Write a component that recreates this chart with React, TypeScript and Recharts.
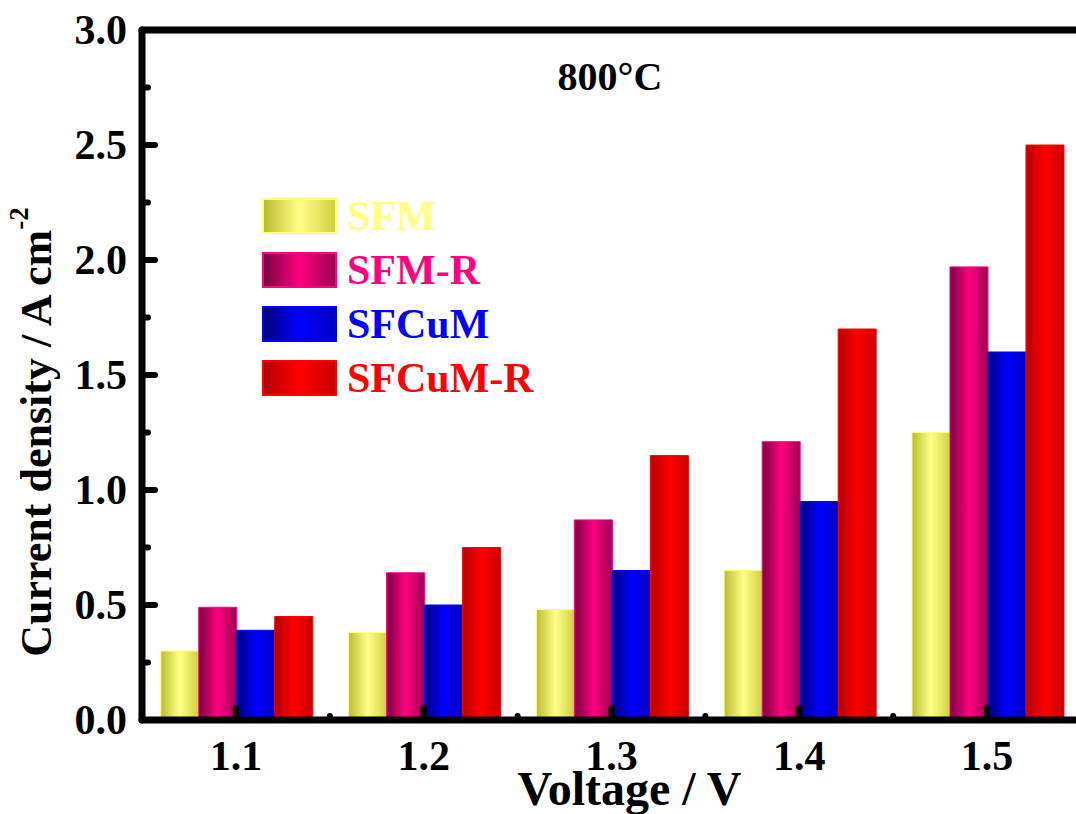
import { BarChart, Bar, XAxis, YAxis, Legend, Label } from "recharts";

const FONT = '"Liberation Serif", "Times New Roman", serif';

// current density (A cm-2) at each cell voltage, 800 °C
const voltages = ["1.1", "1.2", "1.3", "1.4", "1.5"];
const sfm = [0.3, 0.38, 0.48, 0.65, 1.25];
const sfmR = [0.49, 0.64, 0.87, 1.21, 1.97];
const sfcum = [0.39, 0.5, 0.65, 0.95, 1.6];
const sfcumR = [0.45, 0.75, 1.15, 1.7, 2.5];

const yTicks = [0, 0.25, 0.5, 0.75, 1, 1.25, 1.5, 1.75, 2, 2.25, 2.5, 2.75, 3];

const series = [
  { key: "sfm", name: "SFM", text: "#ffff80", stops: ["#bcbc30", "#ffff88", "#d0d040"] },
  { key: "sfmR", name: "SFM-R", text: "#ff0080", stops: ["#780040", "#ff0080", "#9c0052"] },
  { key: "sfcum", name: "SFCuM", text: "#0000ff", stops: ["#000080", "#0000ff", "#0000c4"] },
  { key: "sfcumR", name: "SFCuM-R", text: "#ff0000", stops: ["#b40000", "#ff0000", "#c80000"] },
];

const data = voltages.map((v, i) => ({
  voltage: v,
  sfm: sfm[i],
  sfmR: sfmR[i],
  sfcum: sfcum[i],
  sfcumR: sfcumR[i],
}));

const textStyle = { fontFamily: FONT, fontWeight: 700, fill: "#000" };

function YTick(props: any) {
  const { x, y, payload } = props;
  const v = payload.value as number;
  const major = Math.abs(v * 2 - Math.round(v * 2)) < 1e-6;
  return (
    <g>
      <line x1={x} x2={x + (major ? 13 : 6)} y1={y} y2={y} stroke="#000" strokeWidth={6} strokeLinecap="round" />
      {major && (
        <text x={x - 15} y={y} textAnchor="end" dominantBaseline="central" fontSize={42} style={textStyle}>
          {v.toFixed(1)}
        </text>
      )}
    </g>
  );
}

// major tick at the category centre, minor tick at the band's right edge
function XTick(props: any) {
  const { x, y, payload } = props;
  const half = payload.offset || 0;
  return (
    <g>
      <line x1={x} x2={x} y1={y} y2={y - 12} stroke="#000" strokeWidth={6} strokeLinecap="round" />
      <line x1={x + half} x2={x + half} y1={y} y2={y - 4} stroke="#000" strokeWidth={6} strokeLinecap="round" />
      <text x={x} y={y + 50} textAnchor="middle" fontSize={42} style={textStyle}>
        {payload.value}
      </text>
    </g>
  );
}

function XTitle(props: any) {
  const { viewBox } = props;
  return (
    <text x={viewBox.x + viewBox.width / 2 + 18} y={viewBox.y + 85} textAnchor="middle" fontSize={48} style={textStyle}>
      Voltage / V
    </text>
  );
}

function YTitle(props: any) {
  const { viewBox } = props;
  const cx = viewBox.x + viewBox.width - 106;
  const cy = viewBox.y + viewBox.height / 2 + 57;
  return (
    <text
      x={cx}
      y={cy}
      textAnchor="middle"
      dominantBaseline="central"
      fontSize={44}
      transform={`rotate(-90, ${cx}, ${cy})`}
      style={textStyle}
    >
      Current density / A cm
      <tspan dy={-17} fontSize={27}>-2</tspan>
    </text>
  );
}

function LegendList() {
  return (
    <div style={{ display: "flex", flexDirection: "column", gap: 18 }}>
      {series.map((s) => (
        <div key={s.key} style={{ display: "flex", alignItems: "center", height: 36 }}>
          <div
            style={{
              width: 75,
              height: 36,
              boxSizing: "border-box",
              border: `2px solid ${s.text}`,
              background: `linear-gradient(to right, ${s.stops[0]}, ${s.stops[1]} 50%, ${s.stops[2]})`,
            }}
          />
          <span
            style={{
              marginLeft: 10,
              fontFamily: FONT,
              fontWeight: 700,
              fontSize: 42,
              lineHeight: "36px",
              color: s.text,
            }}
          >
            {s.name}
          </span>
        </div>
      ))}
    </div>
  );
}

export default function App() {
  return (
    <div
      style={{
        position: "absolute",
        left: 0,
        top: 0,
        width: 1076,
        height: 814,
        overflow: "hidden",
        background: "#fff",
      }}
    >
      <BarChart
        width={1100}
        height={814}
        data={data}
        margin={{ top: 29, right: 19, bottom: 0, left: 0 }}
        barCategoryGap="10%"
        barGap={0}
      >
        <defs>
          {series.map((s) => (
            <linearGradient key={s.key} id={`grad-${s.key}`} x1="0" y1="0" x2="1" y2="0">
              <stop offset="0%" stopColor={s.stops[0]} />
              <stop offset="50%" stopColor={s.stops[1]} />
              <stop offset="100%" stopColor={s.stops[2]} />
            </linearGradient>
          ))}
        </defs>
        <XAxis
          dataKey="voltage"
          height={94}
          tickSize={0}
          tickMargin={0}
          tickLine={false}
          axisLine={{ stroke: "#000", strokeWidth: 7, strokeLinecap: "round" }}
          tick={<XTick />}
          interval={0}
        >
          <Label content={<XTitle />} />
        </XAxis>
        <XAxis
          xAxisId="top"
          orientation="top"
          height={1}
          tick={false}
          tickLine={false}
          axisLine={{ stroke: "#000", strokeWidth: 7, strokeLinecap: "round" }}
        />
        <YAxis
          domain={[0, 3]}
          ticks={yTicks}
          width={142}
          tickSize={0}
          tickMargin={0}
          tickLine={false}
          interval={0}
          axisLine={{ stroke: "#000", strokeWidth: 7, strokeLinecap: "round" }}
          tick={<YTick />}
        >
          <Label content={<YTitle />} />
        </YAxis>
        <Legend
          layout="vertical"
          align="center"
          verticalAlign="middle"
          content={<LegendList />}
          wrapperStyle={{ left: 262, top: 198, width: 300, height: 200 }}
        />
        {series.map((s) => (
          <Bar
            key={s.key}
            dataKey={s.key}
            name={s.name}
            fill={`url(#grad-${s.key})`}
            stroke={s.text}
            strokeWidth={1}
            isAnimationActive={false}
          />
        ))}
      </BarChart>
      <div
        style={{
          position: "absolute",
          left: 610,
          top: 57,
          transform: "translateX(-50%)",
          fontFamily: FONT,
          fontWeight: 700,
          fontSize: 40,
          lineHeight: "40px",
          whiteSpace: "nowrap",
        }}
      >
        800°C
      </div>
    </div>
  );
}
